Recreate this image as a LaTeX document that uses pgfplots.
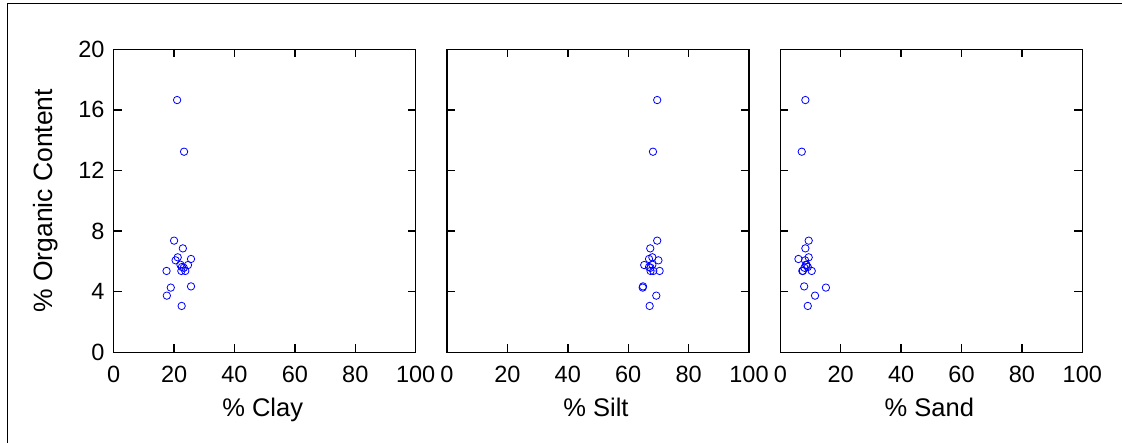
\documentclass[border=0pt]{standalone}
\usepackage{fontspec}
\setmainfont{Liberation Sans}
\usepackage{pgfplots}
\usepackage{pgfplotstable}
\pgfplotsset{compat=1.18}

\pgfplotstableread{
clay silt sand oc
21.0 69.6 8.3 16.65
23.3 68.2 7.1 13.24
20.0 69.6 9.4 7.37
22.9 67.3 8.3 6.86
21.2 68.0 9.4 6.27
20.5 70.0 8.2 6.07
25.6 66.9 6.0 6.16
22.1 68.0 8.5 5.78
22.6 66.9 9.1 5.63
24.6 65.3 8.7 5.76
23.2 67.4 8.0 5.58
17.5 70.4 10.4 5.37
22.4 68.3 7.3 5.37
23.7 67.4 7.5 5.37
18.9 64.8 15.1 4.27
25.6 64.9 7.9 4.35
17.6 69.3 11.5 3.74
22.5 67.1 9.1 3.06
}\soil

\pgfplotsset{
  panel/.style={
    at={(#1,89.7pt)}, anchor=south west,
    width=302pt, height=303pt, scale only axis,
    xmin=0, xmax=100, ymin=0, ymax=20,
    xtick={0,20,...,100}, ytick={0,4,...,20},
    tick align=inside, major tick length=8pt,
    axis line style={line width=1.4pt},
    every tick/.style={line width=1.4pt, black},
    /pgf/number format/assume math mode=true,
    tick label style={font=\fontsize{23.5}{23.5}\selectfont},
    xticklabel style={anchor=north, inner sep=0pt, yshift=-14pt},
    yticklabel style={anchor=east, inner sep=0pt, xshift=-9pt},
    every axis x label/.style={at={(axis description cs:0.5,0)}, anchor=north, inner sep=0pt, yshift=-46pt, xshift=-2pt, font=\fontsize{25.5}{25.5}\selectfont},
    every axis y label/.style={at={(axis description cs:0,0.5)}, rotate=90, anchor=center, inner sep=0pt, yshift=68pt, font=\fontsize{26.5}{26.5}\selectfont},
  },
  pts/.style={only marks, mark=o, mark size=3.7pt, color={rgb,255:red,0;green,0;blue,255}, mark options={line width=0.8pt}},
}

\begin{document}
\begin{tikzpicture}
\useasboundingbox (0,0) rectangle (1122pt,442pt);
\draw[line width=1pt] (7pt,-5pt) -- (7pt,438pt) -- (1130pt,438pt);

\begin{axis}[panel=113.7pt, xlabel={\% Clay}, ylabel={\% Organic Content}]
\addplot[pts] table[x=clay, y=oc] {\soil};
\end{axis}

\begin{axis}[panel=447pt, xlabel={\% Silt}, yticklabels={}]
\addplot[pts] table[x=silt, y=oc] {\soil};
\end{axis}

\begin{axis}[panel=780.3pt, xlabel={\% Sand}, yticklabels={}]
\addplot[pts] table[x=sand, y=oc] {\soil};
\end{axis}
\end{tikzpicture}
\end{document}
